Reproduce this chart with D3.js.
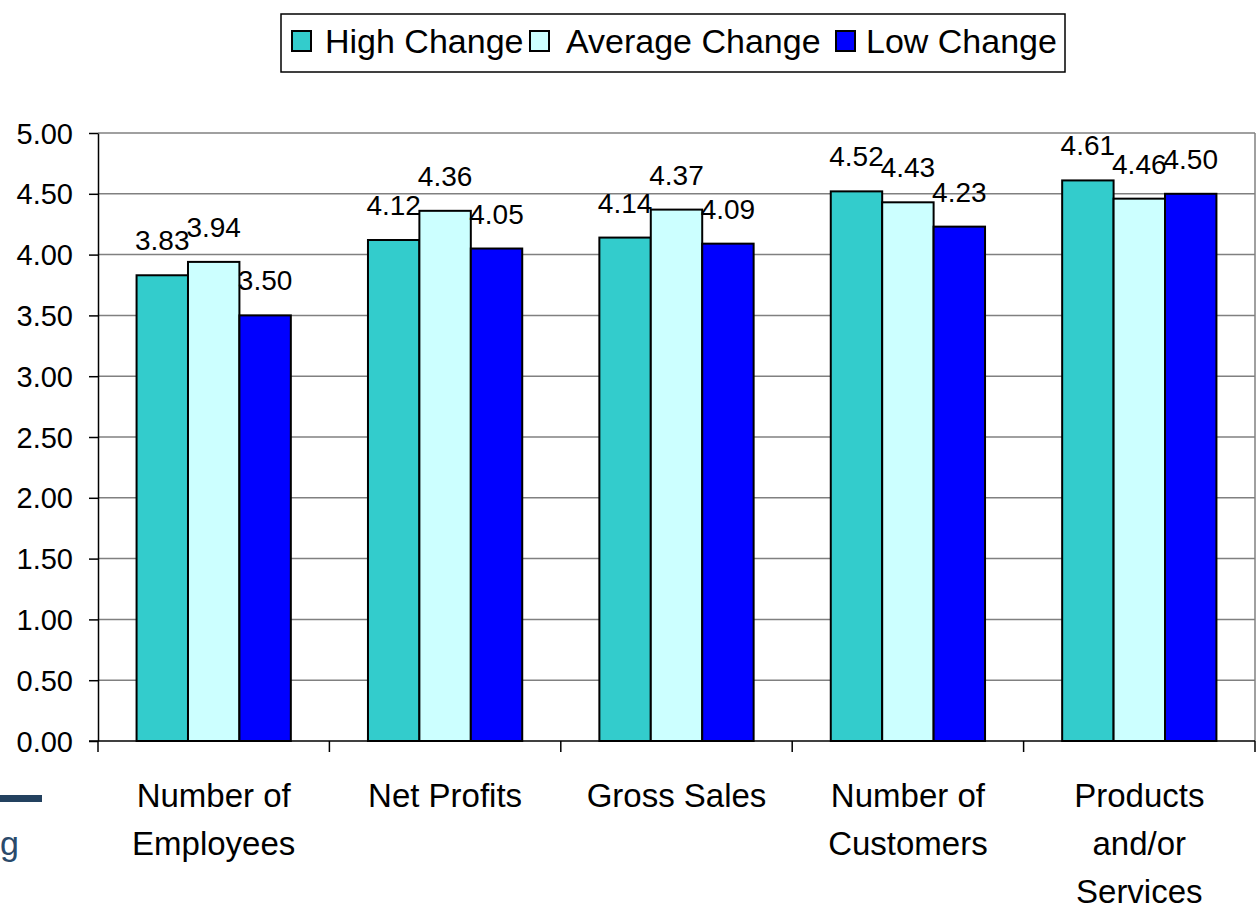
<!DOCTYPE html>
<html>
<head>
<meta charset="utf-8">
<script src="https://cdn.jsdelivr.net/npm/d3@7"></script>
<style>
  body { margin: 0; background: #fff; }
  svg text { font-family: "Liberation Sans", Arial, sans-serif; }
</style>
</head>
<body>
<div class="chart-container"></div>
<script>
const categories = [['Number of', 'Employees'], ['Net Profits'], ['Gross Sales'], ['Number of', 'Customers'], ['Products', 'and/or', 'Services']];
const seriesNames = ['High Change', 'Average Change', 'Low Change'];
const highChange = [3.83, 4.12, 4.14, 4.52, 4.61];
const averageChange = [3.94, 4.36, 4.37, 4.43, 4.46];
const lowChange = [3.50, 4.05, 4.09, 4.23, 4.50];
const yTicks = [0, 0.5, 1, 1.5, 2, 2.5, 3, 3.5, 4, 4.5, 5];

const colors = ['#33CCCC', '#CCFFFF', '#0000FF'];
const series = [highChange, averageChange, lowChange];

const width = 1259, height = 906;
const plot = { left: 98, right: 1255, top: 133, bottom: 741 };

const svg = d3.select('.chart-container').append('svg')
  .attr('width', width).attr('height', height);

const x = d3.scaleBand().domain(d3.range(categories.length))
  .range([plot.left, plot.right]).paddingInner(0).paddingOuter(0);
const xs = d3.scaleBand().domain(d3.range(series.length))
  .range([0, x.bandwidth()]).paddingInner(0).paddingOuter(0.75);
const y = d3.scaleLinear().domain([0, 5]).range([plot.bottom, plot.top]);

// gridlines
svg.append('g').selectAll('line').data(yTicks.filter(d => d > 0)).enter()
  .append('line')
  .attr('x1', plot.left).attr('x2', plot.right)
  .attr('y1', d => y(d)).attr('y2', d => y(d))
  .attr('stroke', '#808080').attr('stroke-width', 1.5);

// right border of plot
svg.append('line')
  .attr('x1', plot.right).attr('x2', plot.right)
  .attr('y1', plot.top).attr('y2', plot.bottom)
  .attr('stroke', '#808080').attr('stroke-width', 1.5);

// bars
const groups = svg.append('g').selectAll('g').data(categories).enter()
  .append('g').attr('transform', (d, i) => `translate(${x(i)},0)`);

groups.selectAll('rect')
  .data((d, i) => series.map((s, j) => ({ j, v: s[i] })))
  .enter().append('rect')
  .attr('x', d => xs(d.j))
  .attr('width', xs.bandwidth())
  .attr('y', d => y(d.v))
  .attr('height', d => y(0) - y(d.v))
  .attr('fill', d => colors[d.j])
  .attr('stroke', '#000').attr('stroke-width', 2);

groups.selectAll('text.val')
  .data((d, i) => series.map((s, j) => ({ j, v: s[i] })))
  .enter().append('text')
  .attr('class', 'val')
  .attr('text-anchor', 'middle')
  .attr('x', d => xs(d.j) + xs.bandwidth() / 2)
  .attr('y', d => y(d.v) - 25)
  .attr('font-size', 28)
  .text(d => d.v.toFixed(2));

// y axis
const yAxis = svg.append('g')
  .attr('transform', `translate(${plot.left},0)`)
  .call(d3.axisLeft(y).tickValues(yTicks).tickFormat(d3.format('.2f')).tickSize(9).tickSizeOuter(0));
yAxis.select('.domain').attr('stroke', '#000').attr('stroke-width', 1.5);
yAxis.selectAll('line').attr('stroke', '#000').attr('stroke-width', 1.5);
yAxis.selectAll('text').attr('font-size', 29).attr('fill', '#000')
  .attr('x', -25).attr('dy', '0.35em')
  .style('font-family', '"Liberation Sans", Arial, sans-serif');

// x axis
const xAxis = svg.append('g')
  .attr('transform', `translate(0,${plot.bottom})`);
xAxis.append('line')
  .attr('x1', plot.left - 9).attr('x2', plot.right)
  .attr('y1', 0).attr('y2', 0)
  .attr('stroke', '#000').attr('stroke-width', 1.5);
xAxis.selectAll('line.tick').data(d3.range(categories.length + 1)).enter()
  .append('line').attr('class', 'tick')
  .attr('x1', i => plot.left + i * x.bandwidth())
  .attr('x2', i => plot.left + i * x.bandwidth())
  .attr('y1', 0).attr('y2', 11)
  .attr('stroke', '#000').attr('stroke-width', 1.5);

xAxis.selectAll('text.cat').data(categories).enter()
  .append('text').attr('class', 'cat')
  .attr('text-anchor', 'middle')
  .attr('font-size', 33)
  .attr('x', (d, i) => x(i) + x.bandwidth() / 2)
  .attr('y', 66)
  .selectAll('tspan').data(d => d).enter()
  .append('tspan')
  .attr('x', function () { return d3.select(this.parentNode).attr('x'); })
  .attr('dy', (d, k) => k === 0 ? 0 : 48)
  .text(d => d);

// legend
const legend = svg.append('g');
legend.append('rect')
  .attr('x', 281).attr('y', 14).attr('width', 784).attr('height', 58)
  .attr('fill', '#fff').attr('stroke', '#000').attr('stroke-width', 1.5);
const legendX = [292, 530, 836];
const legendTextX = [325, 566, 866];
const items = legend.selectAll('g.item').data(seriesNames).enter()
  .append('g').attr('class', 'item');
items.append('rect')
  .attr('x', (d, i) => legendX[i]).attr('y', 31).attr('width', 19).attr('height', 20)
  .attr('fill', (d, i) => colors[i]).attr('stroke', '#000').attr('stroke-width', 2);
items.append('text')
  .attr('x', (d, i) => legendTextX[i]).attr('y', 53)
  .attr('font-size', 34)
  .text(d => d);

// slide remnants at lower left
svg.append('rect').attr('x', 0).attr('y', 795).attr('width', 42).attr('height', 7).attr('fill', '#23415f');
svg.append('text').attr('x', 0).attr('y', 855).attr('font-size', 34)
  .attr('fill', '#2a4a6b').text('g');
</script>
</body>
</html>
